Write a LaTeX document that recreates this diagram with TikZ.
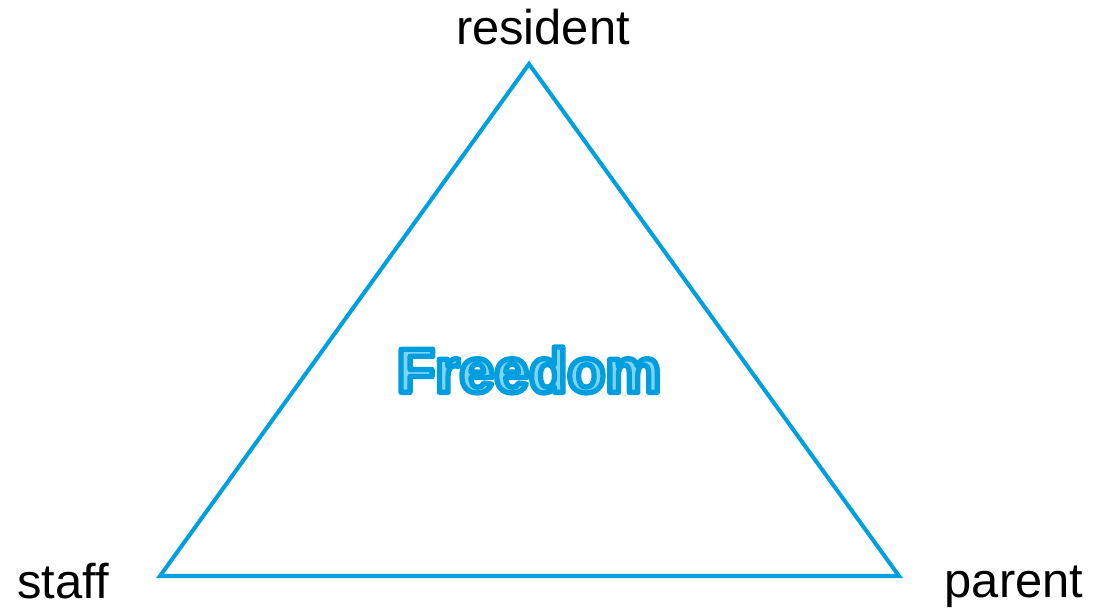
\documentclass[tikz,border=0pt]{standalone}
\usepackage{fontspec}
\setmainfont{Liberation Sans}
\usepackage{xcolor}
\usepackage{tikz}
\usetikzlibrary{positioning}

\definecolor{triblue}{RGB}{0,159,222}
\definecolor{lightblue}{RGB}{125,212,247}
% outlined text: light fill, blue stroke
\newcommand{\outlined}[1]{{\color{lightblue}%
  \special{pdf:literal direct 0 0.62 0.87 RG 2 Tr 1.5 w 1 j}#1%
  \special{pdf:literal direct 0 Tr}}}

\begin{document}
\begin{tikzpicture}[x=1cm,y=1cm]
  \useasboundingbox (0,0) rectangle (10.95,6.09);
  \tikzset{corner/.style={font=\fontsize{13.9}{16}\selectfont,anchor=base}}

  % corners of the triangle
  \coordinate (top) at (5.29,5.45);
  \coordinate (left) at (1.60,0.33);
  \coordinate (right) at (8.99,0.33);
  \draw[triblue,line width=1.15pt,line join=miter] (top) -- (left) -- (right) -- cycle;

  % corner labels
  \node[corner] (res) at (5.43,5.64) {resident};
  \node[corner] (staff) at (0.63,0.11) {staff};
  \node[corner] (parent) at (10.14,0.12) {parent};

  % centre word
  \node[font=\fontsize{17.8}{20}\selectfont\bfseries] (free) at (5.29,2.39)
    {\outlined{Freedom}};
\end{tikzpicture}
\end{document}
